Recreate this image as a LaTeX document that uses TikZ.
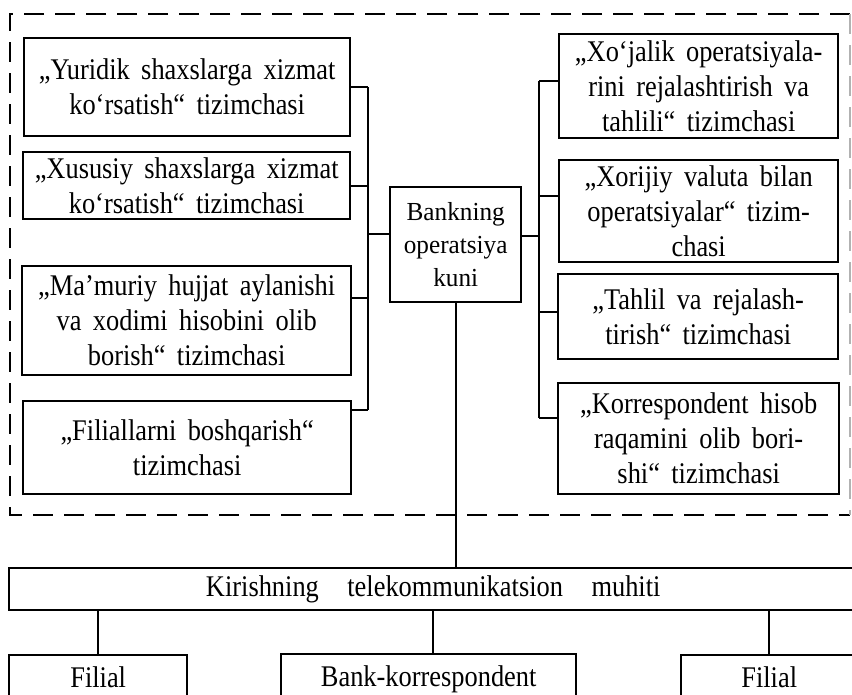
\documentclass[tikz,border=0pt]{standalone}
\usepackage{fontspec}
\setmainfont{Liberation Serif}[FakeStretch=0.88]
\newfontfamily\cfont{Liberation Serif}[FakeStretch=0.97]
\newcommand\wsp{\spaceskip=0.38em\relax}
\newcommand\kwsp{\spaceskip=0.95em\relax}
\begin{document}
\begin{tikzpicture}[x=1pt,y=-1pt,
  box/.style={draw, line width=2.4pt, inner sep=0pt, align=center, anchor=north west,
    font=\fontsize{30}{35}\selectfont\wsp},
  cbox/.style={box, font=\cfont\fontsize{26}{33}\selectfont},
  kbox/.style={box, font=\fontsize{30}{35}\selectfont\kwsp},
  bbox/.style={box, text height=25pt, text depth=3pt},
  link/.style={line width=2.2pt},
  frame/.style={line width=2.6pt, dash pattern=on 20pt off 11pt}]
\useasboundingbox (0,0) rectangle (852,694);
\clip (0,0) rectangle (852,694);
\draw[frame] (850,14) -- (10,14) -- (10,515) -- (850,515);
\draw[frame, line width=1.4pt, gray!60] (850,14) -- (850,515);
% left boxes
\node[box, minimum width=326pt, minimum height=98pt] (L1) at (23,37)
  {„Yuridik shaxslarga xizmat\\ko‘rsatish“ tizimchasi};
\node[box, minimum width=327pt, minimum height=67pt] (L2) at (22,151)
  {„Xususiy shaxslarga xizmat\\ko‘rsatish“ tizimchasi};
\node[box, minimum width=329pt, minimum height=109pt] (L3) at (21,265)
  {„Ma’muriy hujjat aylanishi\\va xodimi hisobini olib\\borish“ tizimchasi};
\node[box, minimum width=328pt, minimum height=93pt] (L4) at (22,400)
  {„Filiallarni boshqarish“\\tizimchasi};
% centre
\node[cbox, minimum width=131pt, minimum height=115pt] (C) at (389,186)
  {Bankning\\operatsiya\\kuni};
% right boxes
\node[box, minimum width=279pt, minimum height=104pt] (R1) at (558,33)
  {„Xo‘jalik operatsiyala-\\rini rejalashtirish va\\tahlili“ tizimchasi};
\node[box, minimum width=279pt, minimum height=102pt] (R2) at (558,159)
  {„Xorijiy valuta bilan\\operatsiyalar“ tizim-\\chasi};
\node[box, minimum width=280pt, minimum height=85pt] (R3) at (557,273)
  {„Tahlil va rejalash-\\tirish“ tizimchasi};
\node[box, minimum width=281pt, minimum height=111pt] (R4) at (557,382)
  {„Korrespondent hisob\\raqamini olib bori-\\shi“ tizimchasi};
% bottom
\node[kbox, minimum width=848pt, minimum height=42pt] (K) at (8,567)
  {Kirishning telekommunikatsion muhiti};
\node[bbox, minimum width=178pt, minimum height=42pt] (F1) at (8,654) {Filial};
\node[bbox, minimum width=295pt, minimum height=43pt] (B) at (280,653) {Bank-korrespondent};
\node[bbox, minimum width=176pt, minimum height=42pt] (F2) at (680,654) {Filial};
% buses
\coordinate (lb) at (368,0);
\coordinate (rb) at (539,0);
\draw[link] (L1.east) -- (L1.east -| lb);
\draw[link] (L2.east) -- (L2.east -| lb);
\draw[link] ([yshift=22.5pt]L3.east) -- ([yshift=22.5pt]L3.east -| lb);
\draw[link] ([yshift=37.5pt]L4.east) -- ([yshift=37.5pt]L4.east -| lb);
\draw[link] (L1.east -| lb) -- ([yshift=37.5pt]L4.east -| lb);
\draw[link] ([yshift=10.5pt]C.west) -- ([yshift=10.5pt]C.west -| lb);
\draw[link] ([yshift=8.5pt]C.east) -- ([yshift=8.5pt]C.east -| rb);
\draw[link] ([yshift=5pt]R1.west) -- ([yshift=5pt]R1.west -| rb);
\draw[link] ([yshift=15pt]R2.west) -- ([yshift=15pt]R2.west -| rb);
\draw[link] ([yshift=4.5pt]R3.west) -- ([yshift=4.5pt]R3.west -| rb);
\draw[link] ([yshift=20.5pt]R4.west) -- ([yshift=20.5pt]R4.west -| rb);
\draw[link] ([yshift=5pt]R1.west -| rb) -- ([yshift=20.5pt]R4.west -| rb);
% vertical links
\draw[link] (C.south) -- (C.south |- K.north);
\draw[link] (F1.north) -- (F1.north |- K.south);
\draw[link] ([xshift=4.5pt]B.north) -- ([xshift=4.5pt]B.north |- K.south);
\draw[link] (F2.north) -- (F2.north |- K.south);
\end{tikzpicture}
\end{document}
